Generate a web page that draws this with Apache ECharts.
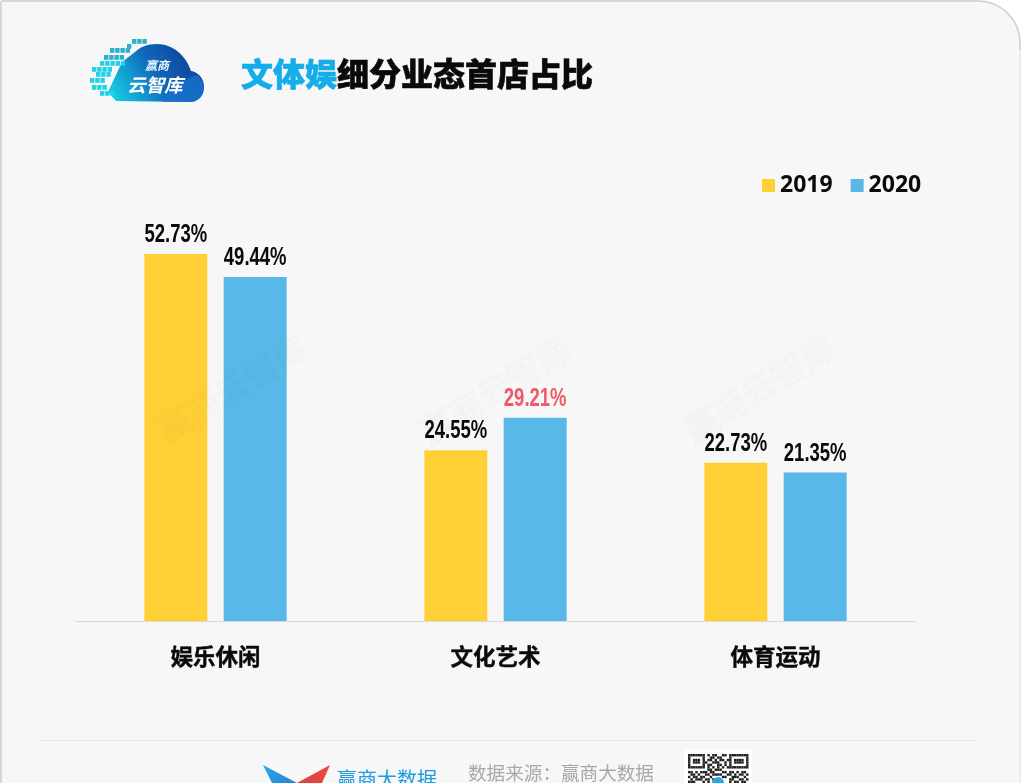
<!DOCTYPE html>
<html><head><meta charset="utf-8">
<style>html,body{margin:0;padding:0;background:#fff;overflow:hidden}#c{width:1021px;height:783px}</style>
<script src="https://cdn.jsdelivr.net/npm/echarts@6/dist/echarts.min.js"></script>
</head><body><div id="c"></div>
<script>
const categories = ['娱乐休闲', '文化艺术', '体育运动'];
const years = ['2019', '2020'];
const values2019 = [52.73, 24.55, 22.73];
const values2020 = [49.44, 29.21, 21.35];
const titleAccent = '文体娱';
const titleRest = '细分业态首店占比';
const watermark = '赢商云智库';
const sourceText = '数据来源：赢商大数据';
const brandText = '赢商大数据';
const logoTop = '赢商';
const logoBottom = '云智库';

const CJK = '"Noto Sans CJK SC","Noto Sans",sans-serif';
const LBL = '"Liberation Sans",sans-serif';
const BAR_W = 63, BAR_GAP = '26%';
const chart = echarts.init(document.getElementById('c'));

echarts.graphic.registerShape('cloudBody', echarts.graphic.extendShape({
  buildPath(ctx){
    ctx.moveTo(116,101); ctx.lineTo(190,102);
    ctx.bezierCurveTo(199,102,204,95,204,87);
    ctx.bezierCurveTo(204,78,198,72,191,71);
    ctx.bezierCurveTo(186,55,172,44,157,44);
    ctx.bezierCurveTo(147,44,140,47,135,52);
    ctx.lineTo(122,62); ctx.lineTo(108,92); ctx.closePath();
  }
}));
echarts.graphic.registerShape('cloudLobe', echarts.graphic.extendShape({
  buildPath(ctx){
    ctx.moveTo(162,102);
    ctx.bezierCurveTo(172,88,186,78,197,75);
    ctx.bezierCurveTo(203,80,204,84,204,87);
    ctx.bezierCurveTo(204,95,199,102,190,102);
    ctx.closePath();
  }
}));

const pixelRows = [[132,39,3],[127,44,1],[110,48,4],[104,55,4],[100,61,5],[92,67,4],[96,72,3],[90,78,3],[92,85,3],[100,91,3]];
const pixels = [];
pixelRows.forEach(([x,y,n]) => { for (let i=0;i<n;i++) pixels.push({
  type:'rect', z:3, shape:{x:x+i*5.2,y:y,width:4.4,height:4.8}, style:{fill: y<60?'#2bb0cf':'#22d3e6'} }); });

const qrRows = [
 '1111111010110011011111111',
 '1000001001101100010000001',
 '1011101011010110110111101',
 '1011101100111001010111101',
 '1000001011001101010000001',
 '1111111010101010111111111',
 '0000000011011100000000000',
 '1101011101100011011010110',
 '0110100110111100110101101',
 '1011011001000011001110010',
 '0101110110110000011001101',
 '1110001010011100010110110',
 '0011010100000000101011001'
];
const qr = [{type:'rect',z:3,shape:{x:684,y:750,width:68,height:40},style:{fill:'#fff'}}];
qrRows.forEach((row,r)=>{ for(let c=0;c<row.length;c++) if(row[c]==='1') qr.push({
  type:'rect',z:4,shape:{x:688+c*2.42,y:754+r*2.42,width:2.42,height:2.42},style:{fill:'#222'}}); });
qr.push({type:'circle',z:5,shape:{cx:718,cy:783,r:6},style:{fill:'#2aa5e8'}});

const wm = [[232,388],[495,390],[759,388]].map(([x,y]) => ({
  type:'text', z:20, x:x, y:y, rotation:32*Math.PI/180,
  style:{text:watermark,font:'34px '+CJK,fill:'rgba(0,0,0,0)',stroke:'rgba(0,0,0,0.05)',lineWidth:0.6,align:'center',verticalAlign:'middle'}
}));

const T = (text,x,y,font,fill,extra) => ({type:'text',z:6,x,y,style:Object.assign({text,font,fill,verticalAlign:'middle'},extra||{})});

const labelRows = [];
values2019.forEach((v,i)=>labelRows.push([i,v,0]));
values2020.forEach((v,i)=>labelRows.push([i,v,1]));

chart.setOption({
  animation:false,
  backgroundColor:'#fff',
  title:{
    left:236, top:47, padding:5,
    text:'{a|'+titleAccent+'}{b|'+titleRest+'}',
    textStyle:{rich:{
      a:{fontFamily:CJK,fontSize:32,fontWeight:900,color:'#14ace9',lineHeight:44,textBorderColor:'#14ace9',textBorderWidth:0.6},
      b:{fontFamily:CJK,fontSize:32,fontWeight:900,color:'#0a0a0a',lineHeight:44,textBorderColor:'#0a0a0a',textBorderWidth:0.6}
    }}
  },
  legend:{
    left:757, top:169, data:years, itemWidth:13, itemHeight:13, itemGap:18, icon:'rect',
    selectedMode:false,
    textStyle:{fontFamily:'"Noto Sans",sans-serif',fontSize:23,fontWeight:'bold',color:'#0a0a0a',padding:0}
  },
  grid:{left:75.5,right:105.5,top:203.4,bottom:162,containLabel:false},
  xAxis:{type:'category',data:categories,
    axisLine:{lineStyle:{color:'#d9d9d9',width:1}},axisTick:{show:false},
    axisLabel:{fontFamily:CJK,fontSize:22.5,fontWeight:'bold',color:'#0a0a0a',margin:24.5,
      textBorderColor:'#0a0a0a',textBorderWidth:0.4}},
  yAxis:{type:'value',min:0,max:60,show:false,splitLine:{show:false}},
  series:[
    {name:years[0],type:'bar',data:values2019,barWidth:BAR_W,barGap:BAR_GAP,itemStyle:{color:'#ffd036'}},
    {name:years[1],type:'bar',data:values2020,barWidth:BAR_W,itemStyle:{color:'#58b8e8'}},
    {name:'labels',type:'custom',data:labelRows,clip:false,z:10,silent:true,
     encode:{x:0,y:1},
     renderItem(params,api){
       const cat=api.value(0), val=api.value(1), idx=api.value(2);
       const p=api.coord([cat,val]);
       const lay=api.barLayout({barWidth:BAR_W,barGap:BAR_GAP,count:2});
       const red = idx===1 && cat===1;
       return {type:'text',x:p[0]+lay[idx].offsetCenter,y:p[1]-19,scaleX:0.74,scaleY:1.06,
         style:{text:val.toFixed(2)+'%',font:'bold 25px '+LBL,fill:red?'#ef5a68':'#0a0a0a',
           align:'center',verticalAlign:'middle'}};
     }}
  ],
  graphic:{elements:[
    {type:'rect',z:-10,silent:true,shape:{x:1,y:1,width:1019,height:830,r:[2,42,0,0]},
     style:{fill:'#f7f7f7',stroke:'#cccccc',lineWidth:1.5}},
    {type:'line',z:-9,silent:true,shape:{x1:1020,y1:50,x2:1020,y2:783},style:{stroke:'#ececec',lineWidth:2}},
    ...wm,
    {type:'line',z:2,shape:{x1:40,y1:740.5,x2:978,y2:740.5},style:{stroke:'#e8e8e8',lineWidth:1}},
    {type:'cloudBody',z:2,style:{fill:new echarts.graphic.LinearGradient(0,1,1,0,[{offset:0,color:'#17dcec'},{offset:0.5,color:'#0f68bb'},{offset:1,color:'#10328c'}])}},
    {type:'cloudLobe',z:3,style:{fill:'rgba(25,115,205,0.75)'}},
    ...pixels,
    T(logoTop,157,65,'italic bold 12px '+CJK,'#eaf6ff',{align:'center'}),
    T(logoBottom,155,85,'italic bold 18.5px '+CJK,'#ffffff',{align:'center'}),
    {type:'polygon',z:3,shape:{points:[[263,765],[297,783],[272,783]]},
      style:{fill:new echarts.graphic.LinearGradient(0,0,1,1,[{offset:0,color:'#25a9e6'},{offset:1,color:'#2f7fd0'}])}},
    {type:'polygon',z:3,shape:{points:[[330,765],[297,783],[322,783]]},
      style:{fill:new echarts.graphic.LinearGradient(1,0,0,1,[{offset:0,color:'#ef4a3c'},{offset:1,color:'#d9403f'}])}},
    T(brandText,337,779,'20px '+CJK,'#1e9be0'),
    T(sourceText,468,773,'18.6px '+CJK,'#a8a8a8'),
    ...qr
  ]}
});
</script></body></html>
